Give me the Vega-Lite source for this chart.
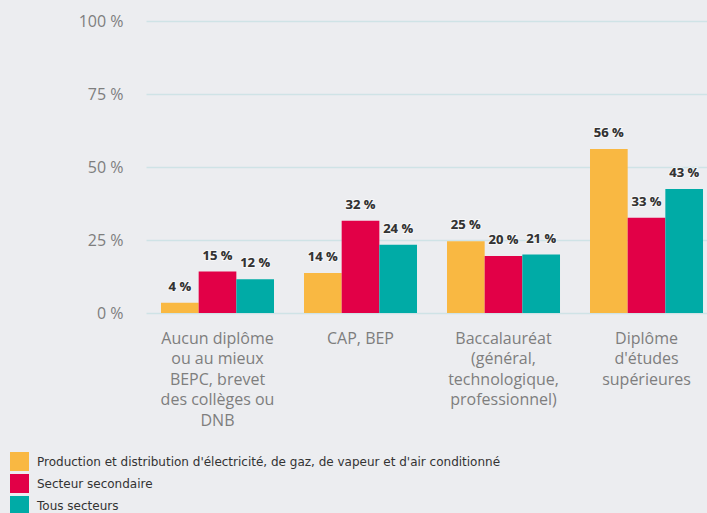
{
  "$schema": "https://vega.github.io/schema/vega-lite/v6.json",
  "width": 561,
  "height": 292,
  "autosize": {"type": "none"},
  "padding": {"left": 146, "top": 21, "right": 0, "bottom": 200},
  "background": "#ECEDF0",
  "config": {"view": {"stroke": null}},
  "data": {"values": [
    {"diplome": "Aucun diplôme|ou au mieux|BEPC, brevet|des collèges ou|DNB", "ordre": 1, "secteur": "Production et distribution d'électricité, de gaz, de vapeur et d'air conditionné", "part": 3.5, "label": "4 %"},
    {"diplome": "Aucun diplôme|ou au mieux|BEPC, brevet|des collèges ou|DNB", "ordre": 1, "secteur": "Secteur secondaire", "part": 14.2, "label": "15 %"},
    {"diplome": "Aucun diplôme|ou au mieux|BEPC, brevet|des collèges ou|DNB", "ordre": 1, "secteur": "Tous secteurs", "part": 11.6, "label": "12 %"},
    {"diplome": "CAP, BEP", "ordre": 2, "secteur": "Production et distribution d'électricité, de gaz, de vapeur et d'air conditionné", "part": 13.7, "label": "14 %"},
    {"diplome": "CAP, BEP", "ordre": 2, "secteur": "Secteur secondaire", "part": 31.6, "label": "32 %"},
    {"diplome": "CAP, BEP", "ordre": 2, "secteur": "Tous secteurs", "part": 23.4, "label": "24 %"},
    {"diplome": "Baccalauréat|(général,|technologique,|professionnel)", "ordre": 3, "secteur": "Production et distribution d'électricité, de gaz, de vapeur et d'air conditionné", "part": 24.6, "label": "25 %"},
    {"diplome": "Baccalauréat|(général,|technologique,|professionnel)", "ordre": 3, "secteur": "Secteur secondaire", "part": 19.5, "label": "20 %"},
    {"diplome": "Baccalauréat|(général,|technologique,|professionnel)", "ordre": 3, "secteur": "Tous secteurs", "part": 20.0, "label": "21 %"},
    {"diplome": "Diplôme|d'études|supérieures", "ordre": 4, "secteur": "Production et distribution d'électricité, de gaz, de vapeur et d'air conditionné", "part": 56.2, "label": "56 %"},
    {"diplome": "Diplôme|d'études|supérieures", "ordre": 4, "secteur": "Secteur secondaire", "part": 32.6, "label": "33 %"},
    {"diplome": "Diplôme|d'études|supérieures", "ordre": 4, "secteur": "Tous secteurs", "part": 42.5, "label": "43 %"}
  ]},
  "encoding": {
    "x": {
      "field": "diplome", "type": "nominal",
      "sort": {"field": "ordre"},
      "scale": {"paddingInner": 0.2098, "paddingOuter": 0.0664, "align": 0.79},
      "axis": {
        "title": null, "domain": false, "ticks": false, "labelAngle": 0,
        "labelExpr": "split(datum.label, '|')",
        "labelFont": "Open Sans", "labelFontSize": 16, "labelColor": "#7E7E7E",
        "labelLineHeight": 20.5, "labelPadding": 17, "labelBaseline": "top"
      }
    },
    "xOffset": {
      "field": "secteur", "type": "nominal",
      "sort": ["Production et distribution d'électricité, de gaz, de vapeur et d'air conditionné", "Secteur secondaire", "Tous secteurs"]
    },
    "y": {
      "field": "part", "type": "quantitative",
      "scale": {"domain": [0, 100], "nice": false},
      "axis": {
        "title": null, "domain": false, "ticks": false,
        "values": [0, 25, 50, 75, 100],
        "labelExpr": "datum.value + ' %'",
        "labelFont": "Open Sans", "labelFontSize": 16, "labelColor": "#7E7E7E",
        "labelPadding": 23,
        "gridColor": "#CFE3E6", "gridWidth": 1.5
      }
    }
  },
  "layer": [
    {
      "mark": {"type": "bar"},
      "encoding": {
        "color": {
          "field": "secteur", "type": "nominal",
          "scale": {
            "domain": ["Production et distribution d'électricité, de gaz, de vapeur et d'air conditionné", "Secteur secondaire", "Tous secteurs"],
            "range": ["#F9B842", "#E20047", "#00ABA6"]
          },
          "legend": {
            "title": null, "orient": "none", "legendX": -136, "legendY": 431,
            "direction": "vertical", "padding": 0,
            "symbolType": "square", "symbolSize": 361, "symbolStrokeWidth": 0,
            "symbolOpacity": 1, "rowPadding": 3, "labelOffset": 8,
            "labelFont": "DejaVu Sans", "labelFontSize": 12, "labelColor": "#333333",
            "labelLimit": 600
          }
        }
      }
    },
    {
      "mark": {"type": "text", "baseline": "alphabetic", "dy": -12, "font": "Open Sans", "fontWeight": "bold", "fontSize": 13, "color": "#333333", "stroke": "#FFFFFF", "strokeWidth": 2, "strokeOpacity": 0.6, "paintOrder": "stroke"},
      "encoding": {"text": {"field": "label"}}
    },
    {
      "mark": {"type": "text", "baseline": "alphabetic", "dy": -12, "font": "Open Sans", "fontWeight": "bold", "fontSize": 13, "color": "#333333"},
      "encoding": {"text": {"field": "label"}}
    }
  ]
}
